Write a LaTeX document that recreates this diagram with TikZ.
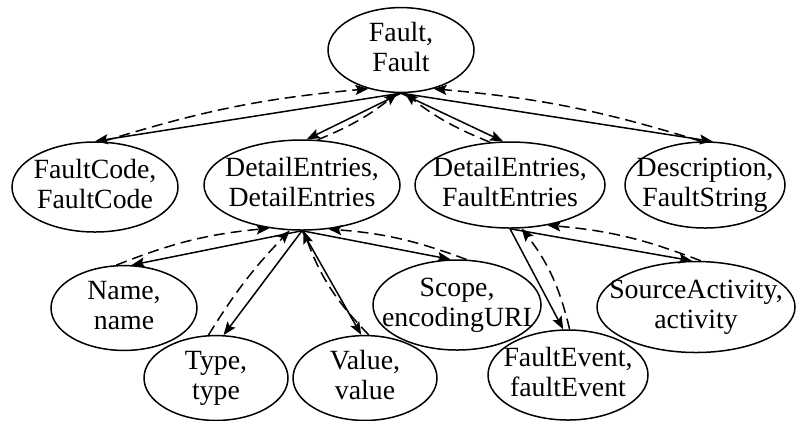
\documentclass[tikz,border=0pt]{standalone}
\usepackage{fontspec}
\setmainfont{Liberation Serif}
\newfontfamily\entfont{Liberation Serif}
\usetikzlibrary{shapes.geometric,arrows.meta,calc}

% two lines of text, kept from widening the ellipse
\newcommand{\pair}[2]{\makebox[0pt]{\begin{tabular}{@{}c@{}}#1,\\#2\end{tabular}}}

\tikzset{
    entity/.style={ellipse, draw, line width=0.75pt, inner sep=0pt,
        font=\entfont\fontsize{13.9}{15}\selectfont},
    link/.style={line width=0.75pt, -{Stealth[length=6.5pt,width=5pt,inset=1.2pt]}},
    back/.style={link, dash pattern=on 5.5pt off 3pt}
}

\begin{document}
\begin{tikzpicture}[x=0.5pt, y=-0.5pt]
        \useasboundingbox (0,0) rectangle (796,420);

        % Root
        \node[entity, minimum width=73pt, minimum height=41pt] (fault) at (401,50) {\pair{Fault}{Fault}};

        % First level
        \node[entity, minimum width=83pt, minimum height=45pt] (fcode) at (95,187) {\pair{FaultCode}{FaultCode}};
        \node[entity, minimum width=98pt, minimum height=45pt] (dentries) at (302,185) {\pair{DetailEntries}{DetailEntries}};
        \node[entity, minimum width=95pt, minimum height=43pt] (fentries) at (510,185) {\pair{DetailEntries}{FaultEntries}};
        \node[entity, minimum width=80pt, minimum height=43pt] (descr) at (705,185) {\pair{Description}{FaultString}};

        % Second level
        \node[entity, minimum width=73pt, minimum height=40pt] (name) at (124,308) {\pair{Name}{name}};
        \node[entity, minimum width=72pt, minimum height=40.5pt] (type) at (216,378) {\pair{Type}{type}};
        \node[entity, minimum width=72pt, minimum height=40.5pt] (value) at (365,378) {\pair{Value}{value}};
        \node[entity, minimum width=84pt, minimum height=45pt] (scope) at (457,305) {\pair{Scope}{encodingURI}};
        \node[entity, minimum width=80pt, minimum height=45pt] (fevent) at (568,375) {\pair{FaultEvent}{faultEvent}};
        \node[entity, minimum width=99pt, minimum height=45.5pt] (srcact) at (696,307) {\pair{SourceActivity}{activity}};

        % Edges from the root
        \draw[link] (fault.south) -- (fcode.north);
        \draw[back] (fcode.80) to[bend left=6] (fault.230);
        \draw[link] (fault.south) -- (dentries.84);
        \draw[back] (dentries.71) to[bend right=8] (fault.265);
        \draw[link] (fault.south) -- (fentries.99);
        \draw[back] (fentries.115) to[bend left=8] (fault.275);
        \draw[link] (fault.south) -- (descr.80);
        \draw[back] (descr.95) to[bend right=6] (fault.310);

        % Edges below DetailEntries
        \draw[link] (dentries.south) -- (name.80);
        \draw[back] (name.100) to[bend left=8] (dentries.233);
        \draw[link] (dentries.south) -- (type.80);
        \draw[back] (type.100) to[bend left=6] (dentries.255);
        \draw[link] (dentries.south) -- (value.95);
        \draw[back] (value.85) to[bend left=12] (dentries.272);
        \draw[link] (dentries.south) -- (scope.98);
        \draw[back] (scope.78) to[bend right=8] (dentries.301);

        % Edges below FaultEntries
        \draw[link] (fentries.south) -- (fevent.96);
        \draw[back] (fevent.88) to[bend right=12] (fentries.285);
        \draw[link] (fentries.south) -- (srcact.95);
        \draw[back] (srcact.84) to[bend right=8] (fentries.313);
\end{tikzpicture}
\end{document}
